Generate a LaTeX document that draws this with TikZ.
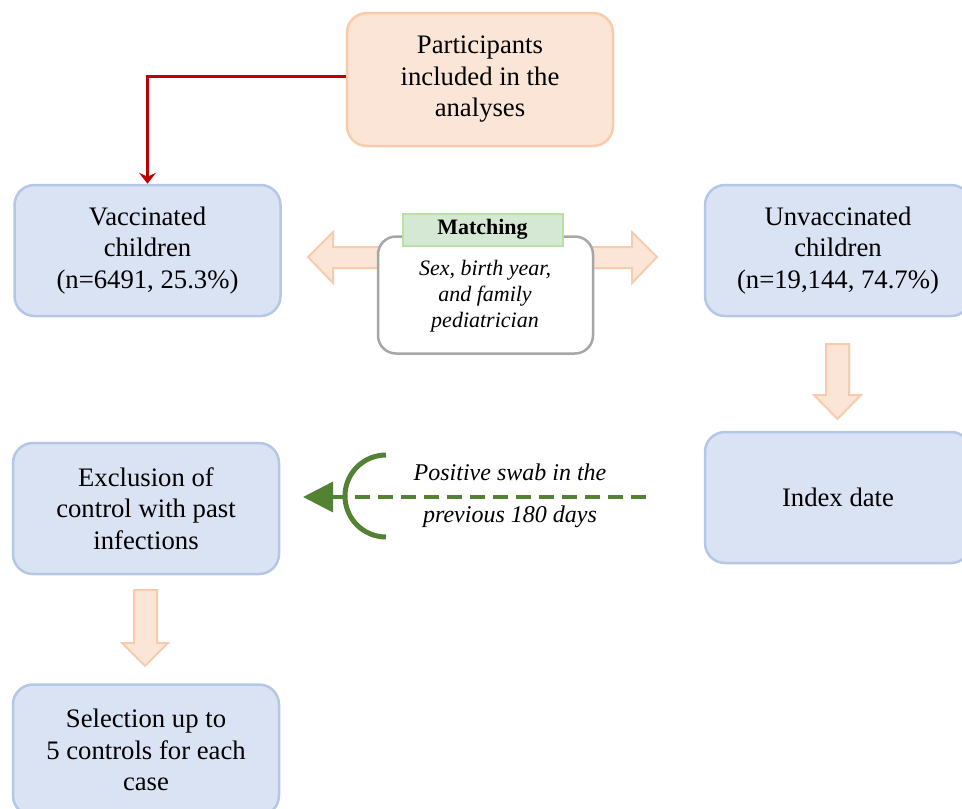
\documentclass[tikz,border=0pt]{standalone}
\usepackage{fontspec}
\setmainfont{Liberation Serif}
\usetikzlibrary{arrows.meta}
\definecolor{boxfill}{HTML}{DAE3F3}
\definecolor{boxline}{HTML}{B4C7E7}
\definecolor{orfill}{HTML}{FBE5D6}
\definecolor{orline}{HTML}{F8CBAD}
\definecolor{grn}{HTML}{548235}
\definecolor{redl}{HTML}{C00000}
\definecolor{gfill}{HTML}{D5E8D4}
\definecolor{gline}{HTML}{B9E0A5}
\definecolor{grayline}{HTML}{A6A6A6}
\begin{document}
\begin{tikzpicture}[x=1pt,y=-1pt,
  bluebox/.style={draw=boxline, fill=boxfill, line width=2.5pt, rounded corners=20pt,
    minimum width=266pt, minimum height=131pt, align=center, inner sep=0pt,
    font=\fontsize{26.7}{31.5}\selectfont},
  orbox/.style={bluebox, draw=orline, fill=orfill, minimum height=133pt},
  blockarrow/.style={draw=orline, fill=orfill, line width=2pt, line join=miter},
  matchbox/.style={draw=grayline, fill=white, line width=2.5pt, rounded corners=18pt,
    minimum width=215pt, minimum height=117pt},
  matchlabel/.style={draw=gline, fill=gfill, line width=2pt, minimum width=160pt,
    minimum height=32pt, inner sep=0pt, font=\fontsize{22}{26}\selectfont\bfseries},
  itext/.style={align=center, inner sep=0pt, font=\fontsize{22}{26}\selectfont\itshape},
  swabtext/.style={align=center, inner sep=0pt, font=\fontsize{24}{28}\selectfont\itshape},
  redarrow/.style={draw=redl, line width=3pt, -{Stealth[length=11pt,width=17pt,inset=4pt]}},
  greenarrow/.style={draw=grn, line width=3.5pt, dash pattern=on 15pt off 8pt,
    -{Triangle[length=30pt,width=30pt]}}
]
\useasboundingbox (0,0) rectangle (962,809);

% nodes
\node[orbox] (part) at (480,79.5) {Participants\\included in the\\analyses};
\node[bluebox] (vac) at (147.5,250.5) {Vaccinated\\children\\(n=6491, 25.3\%)};
\node[bluebox] (unvac) at (838,250.5) {Unvaccinated\\children\\(n=19,144, 74.7\%)};
\node[bluebox] (excl) at (146,508.5) {Exclusion of\\control with past\\infections};
\node[bluebox] (index) at (838,497.5) {Index date};
\node[bluebox] (sel) at (146,750) {Selection up to\\5 controls for each\\case};

% matching double arrow (behind box)
\draw[blockarrow] (308,257) -- (333,232) -- (333,247) -- (632,247) -- (632,232)
  -- (657,257) -- (632,283) -- (632,268) -- (333,268) -- (333,283) -- cycle;
\node[matchbox] (match) at (485.5,295) {};
\node[itext] (matchtxt) at (485,296) {Sex, birth year,\\and family\\pediatrician};
\node[matchlabel] (matchlab) at (482.5,229.5) {Matching};

% down block arrows
\draw[blockarrow] (826,344) -- (849,344) -- (849,395) -- (861,395) -- (837.5,419)
  -- (814,395) -- (826,395) -- cycle;
\draw[blockarrow] (134,590) -- (157,590) -- (157,643) -- (168,643) -- (145,666)
  -- (122,643) -- (134,643) -- cycle;

% red connector
\draw[redarrow] ([yshift=3.5pt]part.west) -| (vac.north);

% green dashed arrow with arc
\coordinate (gstart) at (646,497);
\coordinate (gend) at (303,497);
\draw[greenarrow] (gstart) -- (gend);
\draw[grn, line width=5pt] (386,455) arc[start angle=270, end angle=90, radius=41];
\node[swabtext] (swab1) at (510,472) {Positive swab in the};
\node[swabtext] (swab2) at (510,517) {previous 180 days};
\end{tikzpicture}
\end{document}
